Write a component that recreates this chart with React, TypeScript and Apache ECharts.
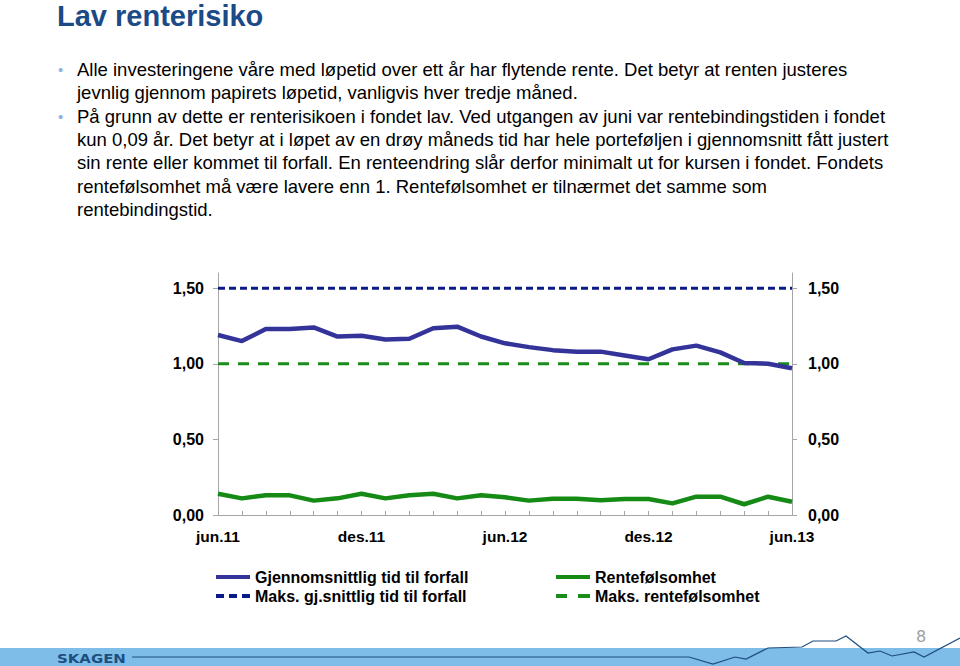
import React, { useEffect, useRef } from "react";
import * as echarts from "echarts";

const months: string[] = [
  "jun.11", "jul.11", "aug.11", "sep.11", "okt.11", "nov.11", "des.11",
  "jan.12", "feb.12", "mar.12", "apr.12", "mai.12", "jun.12",
  "jul.12", "aug.12", "sep.12", "okt.12", "nov.12", "des.12",
  "jan.13", "feb.13", "mar.13", "apr.13", "mai.13", "jun.13",
];

const avgTimeToMaturity: number[] = [
  1.19, 1.15, 1.23, 1.23, 1.24, 1.18, 1.185, 1.16, 1.165, 1.235, 1.245, 1.18, 1.135,
  1.11, 1.09, 1.08, 1.08, 1.055, 1.03, 1.095, 1.12, 1.075, 1.005, 1.0, 0.97,
];

const rateSensitivity: number[] = [
  0.14, 0.11, 0.13, 0.13, 0.095, 0.11, 0.14, 0.11, 0.13, 0.14, 0.11, 0.13, 0.117,
  0.095, 0.108, 0.108, 0.097, 0.106, 0.106, 0.077, 0.121, 0.121, 0.071, 0.121, 0.088,
];

const maxAvgTime: number[] = months.map(() => 1.5);
const maxSensitivity: number[] = months.map(() => 1.0);

const yTickValues: number[] = [0, 0.5, 1.0, 1.5];

const seriesNames: string[] = [
  "Gjennomsnittlig tid til forfall",
  "Maks. gj.snittlig tid til forfall",
  "Rentefølsomhet",
  "Maks. rentefølsomhet",
];

const titleText = "Lav renterisiko";
const bulletLines: string[][] = [
  [
    "Alle investeringene våre med løpetid over ett år har flytende rente. Det betyr at renten justeres",
    "jevnlig gjennom papirets løpetid, vanligvis hver tredje måned.",
  ],
  [
    "På grunn av dette er renterisikoen i fondet lav. Ved utgangen av juni var rentebindingstiden i fondet",
    "kun 0,09 år. Det betyr at i løpet av en drøy måneds tid har hele porteføljen i gjennomsnitt fått justert",
    "sin rente eller kommet til forfall. En renteendring slår derfor minimalt ut for kursen i fondet. Fondets",
    "rentefølsomhet må være lavere enn 1. Rentefølsomhet er tilnærmet det samme som",
    "rentebindingstid.",
  ],
];

const FONT = "'Liberation Sans', Arial, sans-serif";

const ICON_SOLID = "path://M0,0H34V4H0Z";
const ICON_BLUE_DASH = "path://M0,0H8V4H0Z M13,0H21V4H13Z M26,0H34V4H26Z";
const ICON_GREEN_DASH = "path://M0,0H11V4H0Z M22,0H34V4H22Z";

const fmt = (v: number) => {
  if (Math.abs(v * 2 - Math.round(v * 2)) > 1e-6) return "";
  return v.toFixed(2).replace(".", ",");
};

export default function App() {
  const ref = useRef<HTMLDivElement>(null);

  useEffect(() => {
    document.body.style.margin = "0";
    if (!ref.current) return;
    const chart = echarts.init(ref.current, undefined, { renderer: "svg" });

    const graphics: any[] = [];
    graphics.push({
      type: "text",
      x: 57,
      y: 1,
      style: {
        text: titleText,
        font: `bold 29px ${FONT}`,
        fill: "#1B4A86",
        verticalAlign: "top",
        textVerticalAlign: "top",
      },
    });

    let y = 69;
    const pitch = 23.3;
    bulletLines.forEach((para) => {
      graphics.push({
        type: "text",
        x: 58,
        y: y,
        style: {
          text: "•",
          font: `15px ${FONT}`,
          fill: "#8DB3E2",
          verticalAlign: "middle",
          textVerticalAlign: "middle",
        },
      });
      para.forEach((line) => {
        graphics.push({
          type: "text",
          x: 77,
          y: y,
          style: {
            text: line,
            font: `18.5px ${FONT}`,
            fill: "#000000",
            verticalAlign: "middle",
            textVerticalAlign: "middle",
          },
        });
        y += pitch;
      });
      y += 0.6;
    });

    // footer
    graphics.push({
      type: "rect",
      shape: { x: 0, y: 648, width: 960, height: 18 },
      style: { fill: "#7DBDE8" },
      silent: true,
    });
    graphics.push({
      type: "text",
      x: 57,
      y: 658,
      scaleX: 1.15,
      style: {
        text: "SKAGEN",
        font: `bold 13px 'DejaVu Sans', ${FONT}`,
        fill: "#1E4E7E",
        verticalAlign: "middle",
        textVerticalAlign: "middle",
      },
    });
    graphics.push({
      type: "polyline",
      shape: {
        points: [
          [132, 657], [689, 657], [713, 664], [735, 657], [746, 659], [768, 648],
          [802, 647], [813, 641], [836, 641], [846, 636], [868, 653], [880, 651],
          [892, 656], [914, 652], [924, 657], [960, 638],
        ],
      },
      style: { stroke: "#1E4E7E", lineWidth: 1.2, fill: null },
      silent: true,
    });
    graphics.push({
      type: "text",
      x: 921,
      y: 636,
      style: {
        text: "8",
        font: `16px 'DejaVu Sans', ${FONT}`,
        fill: "#A0A0A0",
        align: "center",
        textAlign: "center",
        verticalAlign: "middle",
        textVerticalAlign: "middle",
      },
    });

    const axisLabelStyle = {
      fontFamily: FONT,
      fontSize: 16,
      fontWeight: "bold",
      color: "#000000",
    };

    const legendText = {
      fontFamily: FONT,
      fontSize: 16,
      fontWeight: "bold",
      color: "#000000",
    };

    const option: any = {
      animation: false,
      backgroundColor: "#ffffff",
      grid: { left: 218, right: 168, top: 273, bottom: 151, containLabel: false },
      legend: [
        {
          left: 216,
          top: 569,
          padding: 0,
          orient: "vertical",
          itemWidth: 34,
          itemHeight: 4,
          itemGap: 3,
          data: [
            { name: seriesNames[0], icon: ICON_SOLID },
            { name: seriesNames[1], icon: ICON_BLUE_DASH },
          ],
          textStyle: legendText,
        },
        {
          left: 556,
          top: 569,
          padding: 0,
          orient: "vertical",
          itemWidth: 34,
          itemHeight: 4,
          itemGap: 3,
          data: [
            { name: seriesNames[2], icon: ICON_SOLID },
            { name: seriesNames[3], icon: ICON_GREEN_DASH },
          ],
          textStyle: legendText,
        },
      ],
      xAxis: {
        type: "category",
        data: months,
        boundaryGap: false,
        axisLine: { lineStyle: { color: "#A6A6A6", width: 1 } },
        axisTick: {
          show: true,
          interval: 0,
          inside: true,
          length: 4,
          lineStyle: { color: "#A6A6A6" },
        },
        axisLabel: { ...axisLabelStyle, fontSize: 15.5, interval: 5, margin: 13 },
        splitLine: { show: false },
      },
      yAxis: [
        {
          type: "value",
          min: 0,
          max: 1.6,
          interval: 0.5,
          position: "left",
          axisLine: { show: true, lineStyle: { color: "#A6A6A6" } },
          axisTick: {
            show: true,
            length: 5,
            customValues: yTickValues,
            lineStyle: { color: "#A6A6A6" },
          },
          axisLabel: { ...axisLabelStyle, margin: 14, formatter: fmt, customValues: yTickValues },
          splitLine: { show: false },
        },
        {
          type: "value",
          min: 0,
          max: 1.6,
          interval: 0.5,
          position: "right",
          axisLine: { show: true, lineStyle: { color: "#A6A6A6" } },
          axisTick: {
            show: true,
            length: 5,
            customValues: yTickValues,
            lineStyle: { color: "#A6A6A6" },
          },
          axisLabel: { ...axisLabelStyle, margin: 16, formatter: fmt, customValues: yTickValues },
          splitLine: { show: false },
        },
      ],
      series: [
        {
          name: seriesNames[1],
          type: "line",
          data: maxAvgTime,
          symbol: "none",
          lineStyle: { color: "#0A1A86", width: 3, type: [7, 4] },
          itemStyle: { color: "#0A1A86" },
          z: 2,
        },
        {
          name: seriesNames[3],
          type: "line",
          data: maxSensitivity,
          symbol: "none",
          lineStyle: { color: "#1A8C1A", width: 3, type: [11, 9] },
          itemStyle: { color: "#1A8C1A" },
          z: 2,
        },
        {
          name: seriesNames[0],
          type: "line",
          data: avgTimeToMaturity,
          symbol: "none",
          lineStyle: { color: "#333399", width: 4.5 },
          itemStyle: { color: "#333399" },
          z: 3,
        },
        {
          name: seriesNames[2],
          type: "line",
          data: rateSensitivity,
          symbol: "none",
          lineStyle: { color: "#158A15", width: 4.5 },
          itemStyle: { color: "#158A15" },
          z: 3,
        },
      ],
      graphic: graphics,
    };

    chart.setOption(option);
    return () => {
      chart.dispose();
    };
  }, []);

  return <div ref={ref} style={{ width: 960, height: 666 }} />;
}
